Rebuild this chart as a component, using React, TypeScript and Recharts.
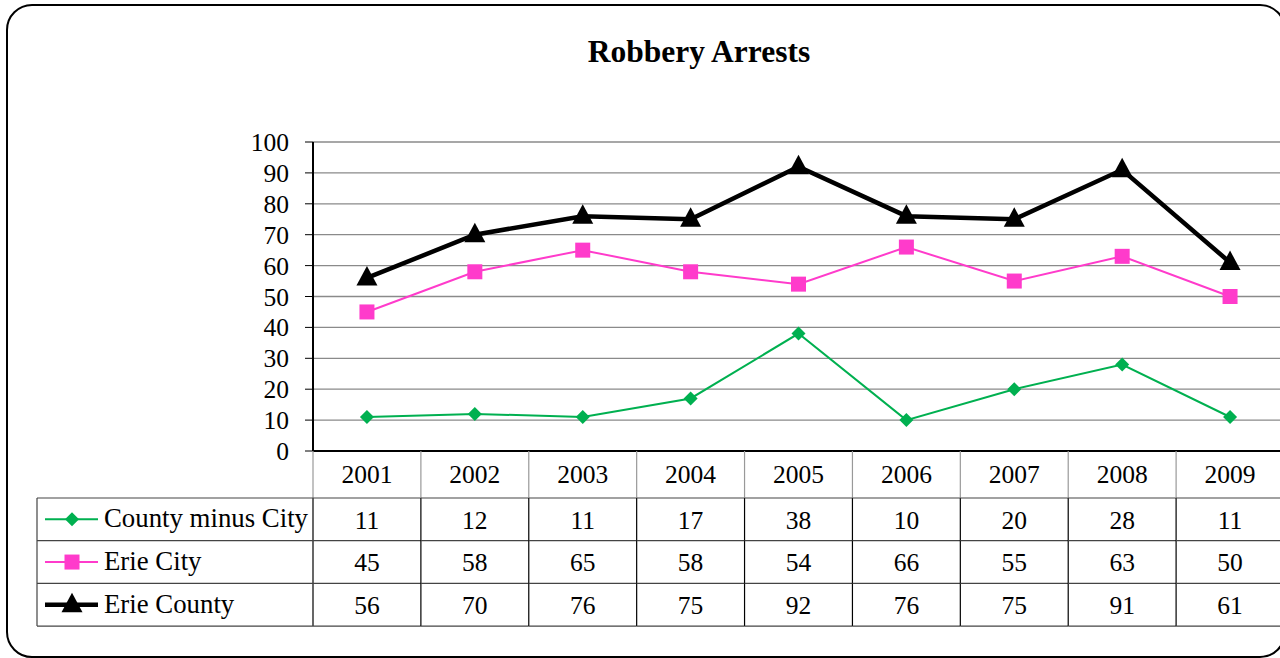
import React from "react";
import { LineChart, Line, XAxis, YAxis, CartesianGrid } from "recharts";

const YEARS = ["2001", "2002", "2003", "2004", "2005", "2006", "2007", "2008", "2009"];
const COUNTY_MINUS_CITY = [11, 12, 11, 17, 38, 10, 20, 28, 11];
const ERIE_CITY = [45, 58, 65, 58, 54, 66, 55, 63, 50];
const ERIE_COUNTY = [56, 70, 76, 75, 92, 76, 75, 91, 61];
const Y_TICKS = [0, 10, 20, 30, 40, 50, 60, 70, 80, 90, 100];

const SERIES = [
  { key: "cmc", name: "County minus City", color: "#00B050", width: 2, shape: "diamond", values: COUNTY_MINUS_CITY },
  { key: "city", name: "Erie City", color: "#FF3BCB", width: 2, shape: "square", values: ERIE_CITY },
  { key: "county", name: "Erie County", color: "#000000", width: 4.5, shape: "triangle", values: ERIE_COUNTY },
];

const data = YEARS.map((year, i) => ({
  year,
  cmc: COUNTY_MINUS_CITY[i],
  city: ERIE_CITY[i],
  county: ERIE_COUNTY[i],
}));

const FONT = "'Liberation Serif', 'Times New Roman', serif";
const COL_W = 107.9;
const HEADER_H = 47;
const ROW_H = 42.7;
const LEGEND_LEFT = 37;

const Marker = ({ shape, cx, cy, color }: any) => {
  if (cx == null || cy == null) return null;
  if (shape === "diamond") {
    const r = 7;
    return <polygon points={`${cx},${cy - r} ${cx + r},${cy} ${cx},${cy + r} ${cx - r},${cy}`} fill={color} />;
  }
  if (shape === "square") {
    const s = 7.5;
    return <rect x={cx - s} y={cy - s} width={s * 2} height={s * 2} fill={color} />;
  }
  const w = 10.5;
  return <polygon points={`${cx},${cy - 12} ${cx + w},${cy + 7.5} ${cx - w},${cy + 7.5}`} fill={color} />;
};

// one table column (year + values) under each category; the first one also draws the legend column
const TableTick = (props: any) => {
  const { x, y, payload } = props;
  const idx = YEARS.indexOf(payload.value);
  const left = x - COL_W / 2;
  const right = x + COL_W / 2;
  const rowTop = (r: number) => y + HEADER_H + r * ROW_H;
  return (
    <g fontFamily={FONT} fontSize={25.5} fill="#000">
      <line x1={left} x2={left} y1={y} y2={rowTop(0)} stroke="#999" strokeWidth={1.2} />
      <line x1={left} x2={left} y1={rowTop(0)} y2={rowTop(3)} stroke="#000" strokeWidth={1.2} />
      <line x1={left} x2={right} y1={rowTop(0)} y2={rowTop(0)} stroke="#444" strokeWidth={1.2} />
      {SERIES.map((s, r) => (
        <line key={s.key} x1={left} x2={right} y1={rowTop(r + 1)} y2={rowTop(r + 1)} stroke="#444" strokeWidth={1.2} />
      ))}
      <text x={x} y={y + HEADER_H / 2} textAnchor="middle" dy="0.35em">
        {payload.value}
      </text>
      {SERIES.map((s, r) => (
        <text key={s.key} x={x} y={rowTop(r) + ROW_H / 2} textAnchor="middle" dy="0.37em">
          {s.values[idx]}
        </text>
      ))}
      {idx === 0 && (
        <g>
          <line x1={LEGEND_LEFT} x2={left} y1={rowTop(0)} y2={rowTop(0)} stroke="#444" strokeWidth={1.2} />
          <line x1={LEGEND_LEFT} x2={LEGEND_LEFT} y1={rowTop(0)} y2={rowTop(3)} stroke="#444" strokeWidth={1.2} />
          {SERIES.map((s, r) => {
            const cy = rowTop(r) + ROW_H / 2;
            return (
              <g key={s.key}>
                <line x1={LEGEND_LEFT} x2={left} y1={rowTop(r + 1)} y2={rowTop(r + 1)} stroke="#444" strokeWidth={1.2} />
                <line x1={45} x2={98} y1={cy} y2={cy} stroke={s.color} strokeWidth={s.width} />
                <Marker shape={s.shape} cx={72} cy={cy} color={s.color} />
                <text x={104} y={cy} textAnchor="start" dy="0.3em" fontSize={26.8}>
                  {s.name}
                </text>
              </g>
            );
          })}
        </g>
      )}
    </g>
  );
};

export default function App() {
  return (
    <div style={{ position: "absolute", left: 0, top: 0, width: 1280, height: 658, overflow: "hidden", background: "#fff" }}>
      <div
        style={{
          position: "absolute",
          left: 6,
          top: 4,
          width: 1276,
          height: 650,
          border: "2.5px solid #000",
          borderRadius: 26,
        }}
      />
      <div
        style={{
          position: "absolute",
          left: 0,
          top: 34,
          width: 1398,
          textAlign: "center",
          fontFamily: FONT,
          fontWeight: "bold",
          fontSize: 31.5,
        }}
      >
        Robbery Arrests
      </div>
      <div style={{ position: "absolute", left: 0, top: 0 }}>
        <LineChart
          width={1290}
          height={658}
          data={data}
          margin={{ top: 142, right: 6, bottom: 27, left: 233 }}
        >
          <CartesianGrid vertical={false} stroke="#8a8a8a" strokeWidth={1.3} />
          <XAxis
            dataKey="year"
            height={180}
            tickLine={false}
            tickSize={0}
            tickMargin={0}
            interval={0}
            axisLine={{ stroke: "#000", strokeWidth: 2 }}
            padding={{ left: COL_W / 2, right: COL_W / 2 }}
            tick={<TableTick />}
          />
          <YAxis
            width={80}
            domain={[0, 100]}
            ticks={Y_TICKS}
            interval={0}
            tickSize={8}
            tickMargin={16}
            axisLine={{ stroke: "#000", strokeWidth: 2 }}
            tickLine={{ stroke: "#000" }}
            tick={{ fill: "#000", fontFamily: FONT, fontSize: 25.5 }}
          />
          {SERIES.map((s) => (
            <Line
              key={s.key}
              dataKey={s.key}
              name={s.name}
              stroke={s.color}
              strokeWidth={s.width}
              isAnimationActive={false}
              dot={(p: any) => <Marker key={`${s.key}-${p.index}`} shape={s.shape} cx={p.cx} cy={p.cy} color={s.color} />}
              activeDot={false}
            />
          ))}
        </LineChart>
      </div>
    </div>
  );
}
